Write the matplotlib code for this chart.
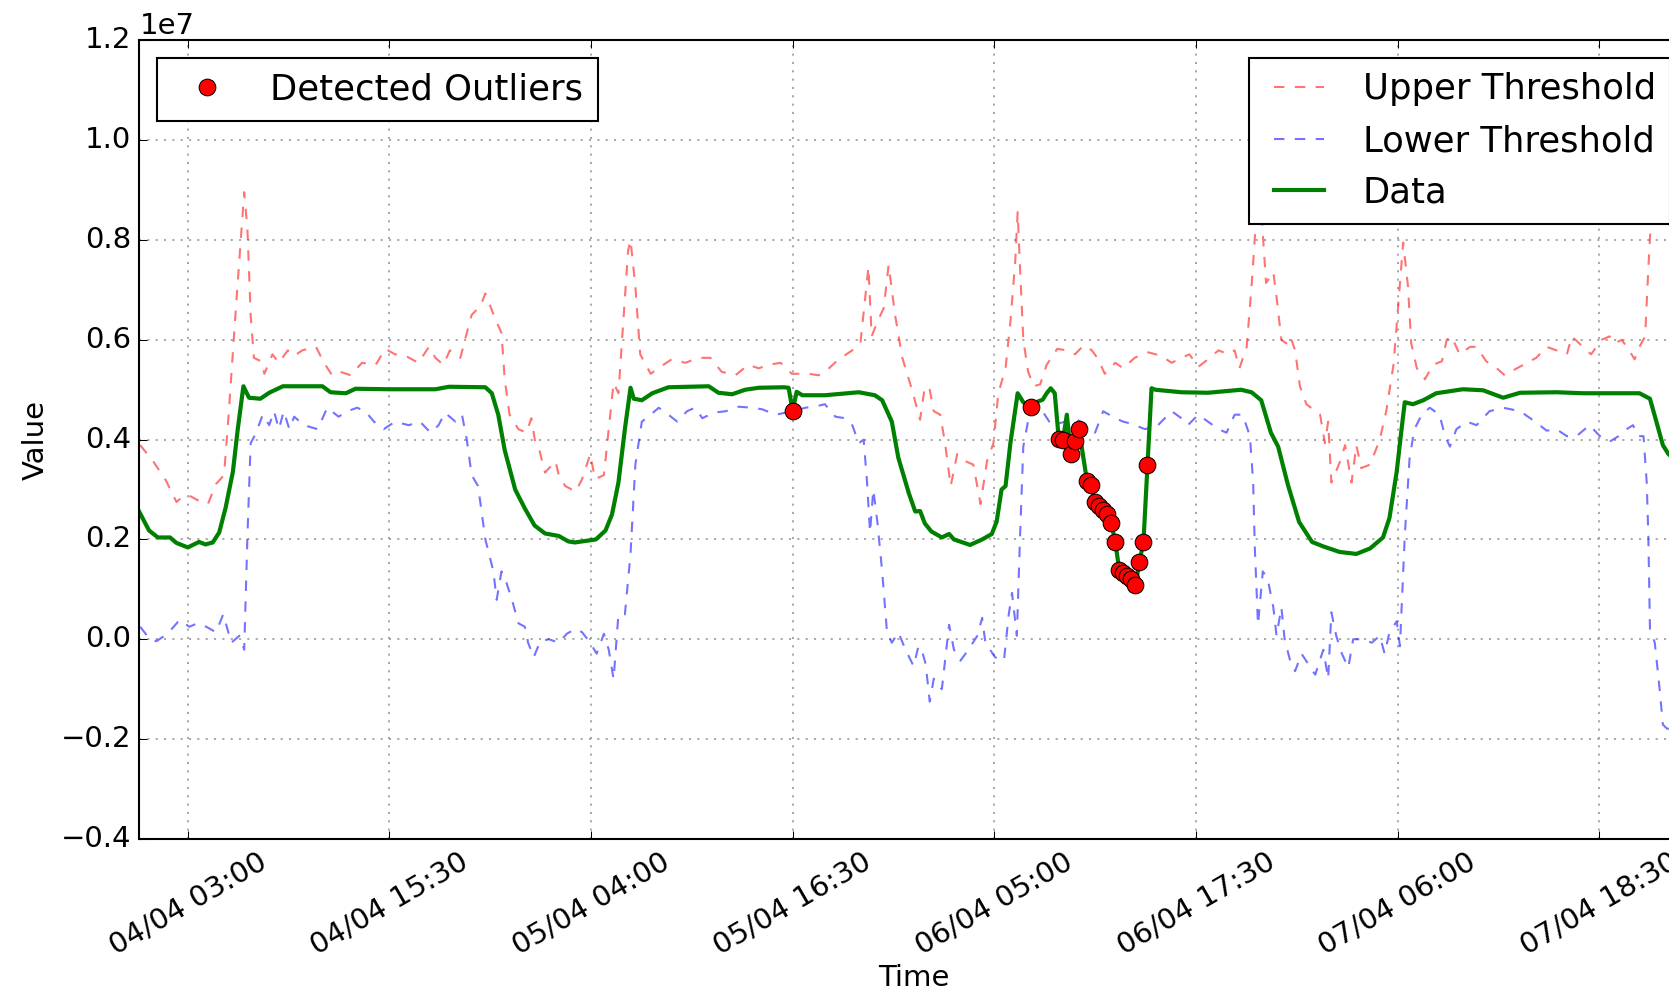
import numpy as np
import pandas as pd
import matplotlib
matplotlib.use('Agg')
import matplotlib.pyplot as plt
import matplotlib.dates as mdates

plt.style.use('classic')
plt.rcParams['font.size'] = 14

START = pd.Timestamp('2016-04-04 00:00')
SCALE = 1e7

# ---- data (hours since 04/04 00:00, values in units of 1e7) ----
data_hours = [0.0, 0.6, 1.15, 1.9, 2.3, 3.0, 3.7, 4.1, 4.55, 4.95, 5.35, 5.8, 6.1, 6.45, 6.8,
              7.5, 8.05, 8.9, 11.35, 11.85, 12.8, 13.4, 15.5, 18.35, 19.2, 21.45, 21.85, 22.25,
              22.65, 23.3, 23.9, 24.5, 25.15, 26.0, 26.6, 27.0, 28.3, 28.9, 29.3, 29.7, 30.1,
              30.45, 30.65, 31.15, 31.8, 32.8, 35.3, 35.9, 36.75, 37.55, 38.4, 39.95, 40.25,
              40.5, 40.75, 41.1, 42.5, 44.6, 45.6, 46.05, 46.65, 47.05, 47.7, 48.1, 48.4, 48.7,
              49.1, 49.75, 50.2, 50.5, 51.5, 52.25, 52.85, 53.15, 53.45, 53.7, 54.0, 54.45,
              54.8, 55.25, 55.5, 55.75, 56.0, 56.25, 56.5, 56.75, 57.0, 57.25, 57.5, 57.75,
              58.0, 58.25, 58.75, 59.0, 59.25, 59.5, 59.75, 60.0, 60.25, 60.5, 60.75, 61.0,
              61.25, 61.5, 61.75, 62.0, 62.25, 62.5, 62.75, 63.0, 64.6, 66.25, 68.3, 68.95,
              69.55, 70.15, 70.6, 71.2, 71.9, 72.7, 73.4, 74.4, 75.45, 76.3, 77.1, 77.5, 77.95,
              78.25, 78.45, 78.95, 79.6, 80.4, 82.05, 83.3, 84.55, 85.6, 87.85, 89.5, 93.0,
              93.65, 94.05, 94.45, 94.8, 95.2]
data_vals = [0.255, 0.218, 0.204, 0.204, 0.193, 0.184, 0.195, 0.19, 0.194, 0.214, 0.264, 0.336,
             0.421, 0.507, 0.484, 0.482, 0.494, 0.507, 0.507, 0.495, 0.493, 0.502, 0.501, 0.501,
             0.506, 0.505, 0.493, 0.45, 0.379, 0.30, 0.262, 0.228, 0.212, 0.207, 0.196, 0.194,
             0.2, 0.218, 0.25, 0.314, 0.421, 0.504, 0.482, 0.479, 0.493, 0.505, 0.507, 0.494,
             0.491, 0.5, 0.504, 0.505, 0.504, 0.458, 0.496, 0.489, 0.489, 0.495, 0.489, 0.479,
             0.436, 0.364, 0.293, 0.256, 0.257, 0.232, 0.216, 0.204, 0.211, 0.2, 0.189, 0.2,
             0.211, 0.236, 0.3, 0.307, 0.393, 0.493, 0.475, 0.465, 0.473, 0.477, 0.48, 0.493,
             0.503, 0.493, 0.401, 0.399, 0.45, 0.372, 0.397, 0.421, 0.317, 0.31, 0.275, 0.268,
             0.26, 0.252, 0.233, 0.195, 0.139, 0.133, 0.127, 0.12, 0.108, 0.155, 0.195, 0.35,
             0.503, 0.5, 0.495, 0.494, 0.5, 0.495, 0.479, 0.414, 0.386, 0.31, 0.235, 0.195,
             0.186, 0.175, 0.171, 0.182, 0.204, 0.243, 0.336, 0.421, 0.475, 0.471, 0.479, 0.493,
             0.501, 0.499, 0.484, 0.494, 0.495, 0.493, 0.493, 0.482, 0.436, 0.389, 0.371, 0.36]

upper_hours = [0.05, 0.85, 1.65, 2.3, 2.8, 3.2, 3.6, 4.25, 4.75, 5.25, 5.55, 6.0, 6.3, 6.5, 6.7,
               6.9, 7.1, 7.55, 7.75, 8.25, 8.65, 9.2, 9.6, 10.1, 10.95, 11.45, 11.95, 12.45,
               13.1, 13.8, 14.65, 15.25, 15.85, 16.5, 17.3, 17.95, 18.35, 18.85, 19.25, 19.9,
               20.3, 20.6, 21.15, 21.45, 22.05, 22.45, 22.65, 22.95, 23.5, 24.0, 24.3, 24.55,
               24.8, 25.15, 25.8, 26.0, 26.4, 27.05, 27.45, 27.95, 28.25, 28.8, 29.1, 29.4,
               29.7, 30.0, 30.3, 30.45, 30.75, 31.05, 31.7, 32.3, 33.0, 33.85, 34.65, 35.4,
               36.1, 36.95, 37.75, 38.4, 39.0, 39.75, 40.45, 41.5, 42.1, 42.75, 43.35, 44.2,
               44.7, 45.0, 45.2, 45.4, 45.75, 46.15, 46.45, 46.85, 47.3, 47.9, 48.4, 48.7, 49.0,
               49.25, 49.65, 49.95, 50.3, 50.7, 51.2, 51.7, 52.15, 52.55, 52.95, 53.25, 53.7,
               54.0, 54.3, 54.45, 54.6, 54.8, 55.1, 55.45, 55.85, 56.25, 56.9, 57.5, 58.0,
               58.55, 59.05, 59.45, 59.85, 60.5, 61.0, 61.7, 62.55, 63.35, 64.0, 64.6, 65.1,
               65.65, 66.25, 66.9, 67.5, 67.9, 68.2, 68.65, 68.95, 69.25, 69.55, 69.85, 70.3,
               70.5, 70.8, 71.1, 71.35, 71.65, 71.95, 72.35, 73.2, 73.5, 73.7, 73.9, 74.45,
               74.75, 75.15, 75.45, 75.75, 76.3, 76.9, 77.3, 77.75, 78.05, 78.35, 78.65, 78.85,
               79.2, 79.7, 80.2, 80.75, 81.05, 81.35, 81.85, 82.5, 82.9, 83.5, 84.15, 84.65,
               85.4, 86.2, 86.6, 87.25, 87.85, 88.5, 88.8, 89.5, 90.0, 90.65, 91.15, 91.45,
               91.9, 92.3, 92.7, 93.0, 93.35, 93.55, 93.75, 94.0, 94.5, 95.0]
upper_vals = [0.389, 0.357, 0.318, 0.275, 0.289, 0.286, 0.279, 0.271, 0.311, 0.329, 0.457, 0.671,
              0.807, 0.896, 0.821, 0.65, 0.564, 0.557, 0.532, 0.571, 0.554, 0.579, 0.568, 0.579,
              0.586, 0.554, 0.529, 0.536, 0.529, 0.554, 0.55, 0.582, 0.571, 0.568, 0.554, 0.586,
              0.564, 0.55, 0.579, 0.564, 0.614, 0.65, 0.668, 0.693, 0.643, 0.614, 0.521, 0.45,
              0.421, 0.414, 0.443, 0.393, 0.379, 0.334, 0.357, 0.329, 0.307, 0.296, 0.321, 0.371,
              0.321, 0.329, 0.421, 0.514, 0.493, 0.636, 0.779, 0.80, 0.707, 0.571, 0.532, 0.546,
              0.561, 0.554, 0.564, 0.564, 0.536, 0.529, 0.55, 0.543, 0.55, 0.554, 0.532, 0.532,
              0.529, 0.543, 0.561, 0.579, 0.593, 0.686, 0.746, 0.607, 0.636, 0.664, 0.75, 0.65,
              0.564, 0.5, 0.44, 0.507, 0.5, 0.457, 0.45, 0.393, 0.307, 0.371, 0.357, 0.35, 0.271,
              0.357, 0.393, 0.493, 0.543, 0.636, 0.757, 0.856, 0.743, 0.6, 0.536, 0.507, 0.511,
              0.55, 0.582, 0.579, 0.571, 0.589, 0.579, 0.561, 0.532, 0.554, 0.543, 0.564, 0.575,
              0.568, 0.554, 0.564, 0.571, 0.546, 0.561, 0.579, 0.571, 0.579, 0.543, 0.586, 0.707,
              0.85, 0.86, 0.714, 0.736, 0.686, 0.6, 0.593, 0.607, 0.579, 0.507, 0.471, 0.45,
              0.393, 0.436, 0.314, 0.357, 0.389, 0.314, 0.389, 0.343, 0.35, 0.40, 0.457, 0.55,
              0.671, 0.795, 0.707, 0.593, 0.543, 0.521, 0.55, 0.557, 0.6, 0.607, 0.571, 0.586,
              0.586, 0.557, 0.543, 0.529, 0.543, 0.557, 0.564, 0.586, 0.579, 0.571, 0.607, 0.586,
              0.571, 0.6, 0.607, 0.593, 0.6, 0.582, 0.561, 0.586, 0.607, 0.743, 0.864, 0.9, 0.86,
              0.82]

lower_hours = [0.05, 0.65, 1.05, 1.75, 2.5, 3.1, 3.6, 4.15, 4.75, 5.2, 5.7, 6.2, 6.5, 6.7, 6.9,
               7.2, 7.65, 8.05, 8.35, 8.65, 8.95, 9.3, 9.6, 10.2, 11.05, 11.65, 12.35, 12.9,
               13.5, 14.0, 14.55, 15.15, 15.85, 16.7, 17.4, 18.05, 18.55, 18.95, 19.6, 20.0,
               20.3, 20.6, 21.0, 21.45, 21.95, 22.15, 22.45, 22.75, 23.1, 23.5, 23.9, 24.1,
               24.45, 24.85, 25.4, 26.0, 26.5, 27.05, 27.45, 27.95, 28.35, 28.8, 29.1, 29.4,
               29.7, 30.1, 30.45, 30.75, 31.15, 31.7, 32.2, 32.8, 33.35, 33.95, 34.45, 34.9,
               35.6, 36.35, 37.15, 38.0, 38.6, 39.45, 40.05, 40.45, 41.3, 42.1, 42.5, 43.15,
               43.75, 44.2, 44.6, 44.9, 45.1, 45.3, 45.5, 45.75, 46.05, 46.35, 46.65, 47.05,
               47.5, 48.0, 48.3, 48.5, 48.75, 49.0, 49.25, 49.75, 50.2, 50.5, 50.9, 51.4, 51.95,
               52.25, 52.45, 53.05, 53.6, 53.9, 54.1, 54.4, 54.6, 54.8, 55.25, 55.85, 56.55,
               57.4, 58.0, 58.65, 59.25, 59.75, 60.5, 61.0, 61.5, 62.35, 63.15, 64.0, 64.6,
               65.0, 65.65, 66.25, 66.9, 67.4, 67.9, 68.4, 68.85, 69.05, 69.15, 69.35, 69.65,
               69.95, 70.3, 70.5, 70.8, 71.0, 71.4, 71.65, 72.05, 72.75, 72.9, 73.4, 73.7, 73.9,
               74.2, 74.55, 74.95, 75.25, 75.85, 76.4, 76.9, 77.2, 77.5, 77.95, 78.15, 78.45,
               78.75, 79.05, 79.5, 80.0, 80.6, 80.95, 81.25, 81.65, 82.3, 82.9, 83.7, 84.55,
               85.6, 86.4, 87.25, 87.85, 88.5, 89.1, 89.9, 90.55, 91.15, 91.7, 92.2, 92.6, 92.9,
               93.25, 93.45, 93.55, 93.65, 93.95, 94.25, 94.45, 94.7, 95.0]
lower_vals = [0.025, 0.0, -0.004, 0.011, 0.039, 0.025, 0.032, 0.025, 0.014, 0.05, -0.007, 0.007,
              -0.021, 0.207, 0.393, 0.411, 0.45, 0.429, 0.457, 0.421, 0.457, 0.421, 0.446, 0.429,
              0.421, 0.464, 0.446, 0.457, 0.464, 0.457, 0.436, 0.421, 0.436, 0.429, 0.436, 0.414,
              0.429, 0.454, 0.436, 0.45, 0.40, 0.329, 0.307, 0.2, 0.136, 0.079, 0.136, 0.114,
              0.079, 0.032, 0.025, -0.007, -0.036, -0.004, 0.0, -0.007, 0.011, 0.021, 0.014,
              -0.007, -0.029, 0.011, -0.021, -0.08, 0.05, 0.05, 0.171, 0.35, 0.436, 0.45, 0.464,
              0.45, 0.436, 0.457, 0.464, 0.443, 0.454, 0.457, 0.466, 0.464, 0.461, 0.45, 0.454,
              0.457, 0.464, 0.468, 0.471, 0.446, 0.443, 0.429, 0.393, 0.40, 0.321, 0.214, 0.30,
              0.236, 0.136, 0.014, -0.007, 0.014, -0.021, -0.054, -0.014, -0.021, -0.05, -0.125,
              -0.079, -0.1, 0.029, -0.021, -0.043, -0.021, 0.007, 0.043, -0.007, -0.036, -0.043,
              0.05, 0.093, 0.007, 0.207, 0.386, 0.464, 0.464, 0.429, 0.436, 0.443, 0.429, 0.414,
              0.457, 0.443, 0.436, 0.432, 0.421, 0.429, 0.457, 0.443, 0.429, 0.45, 0.436, 0.421,
              0.414, 0.45, 0.45, 0.407, 0.314, 0.186, 0.029, 0.136, 0.121, 0.064, 0.007, 0.064,
              0.0, -0.05, -0.064, -0.029, -0.064, -0.071, -0.021, -0.079, 0.054, 0.007, -0.029,
              -0.057, 0.0, 0.0, -0.007, 0.007, -0.029, 0.014, 0.036, -0.014, 0.207, 0.364, 0.421,
              0.45, 0.464, 0.45, 0.407, 0.386, 0.421, 0.436, 0.429, 0.457, 0.464, 0.457, 0.439,
              0.418, 0.421, 0.407, 0.407, 0.429, 0.407, 0.396, 0.407, 0.421, 0.429, 0.407, 0.407,
              0.314, 0.207, 0.021, -0.007, -0.1, -0.171, -0.179, -0.18]

outlier_hours = [40.5, 55.25, 57.0, 57.25, 57.75, 58.0, 58.25, 58.75, 59.0, 59.25, 59.5, 59.75,
                 60.0, 60.25, 60.5, 60.75, 61.0, 61.25, 61.5, 61.75, 62.0, 62.25, 62.5]
outlier_vals = [0.458, 0.465, 0.401, 0.399, 0.372, 0.397, 0.421, 0.317, 0.31, 0.275, 0.268, 0.26,
                0.252, 0.233, 0.195, 0.139, 0.133, 0.127, 0.12, 0.108, 0.155, 0.195, 0.35]

tick_times = ['2016-04-04 03:00', '2016-04-04 15:30', '2016-04-05 04:00', '2016-04-05 16:30',
              '2016-04-06 05:00', '2016-04-06 17:30', '2016-04-07 06:00', '2016-04-07 18:30']
y_ticks = [-0.4, -0.2, 0.0, 0.2, 0.4, 0.6, 0.8, 1.0, 1.2]


def to_time(hours):
    return (START + pd.to_timedelta(np.asarray(hours, dtype=float), unit='h')).to_pydatetime()


DPI = 150
fig = plt.figure(figsize=(1669 / DPI, 992 / DPI), dpi=DPI, facecolor='white')
ax = fig.add_axes([0.0835, 0.1544, 0.9278, 0.8048])
ax.set_axisbelow(True)

h_up, = ax.plot(to_time(upper_hours), np.array(upper_vals) * SCALE, color='r', ls='--',
                dashes=(5, 5), lw=1.0, alpha=0.55, label='Upper Threshold')
h_low, = ax.plot(to_time(lower_hours), np.array(lower_vals) * SCALE, color='b', ls='--',
                 dashes=(5, 5), lw=1.0, alpha=0.55, label='Lower Threshold')
h_data, = ax.plot(to_time(data_hours), np.array(data_vals) * SCALE, color='g', lw=2.0,
                  label='Data')
h_out, = ax.plot(to_time(outlier_hours), np.array(outlier_vals) * SCALE, 'o', color='r',
                 mec='k', mew=0.5, ms=8, ls='none', label='Detected Outliers')

ax.set_xlim(START.to_pydatetime(), (START + pd.Timedelta(hours=96)).to_pydatetime())
ax.set_ylim(-0.4 * SCALE, 1.2 * SCALE)
ax.set_yticks(np.array(y_ticks) * SCALE)
ax.ticklabel_format(axis='y', style='sci', scilimits=(-3, 3))
ax.set_xticks([pd.Timestamp(t).to_pydatetime() for t in tick_times])
ax.xaxis.set_major_formatter(mdates.DateFormatter('%d/%m %H:%M'))
for lab in ax.get_xticklabels():
    lab.set_rotation(30)
    lab.set_ha('center')

ax.grid(True, color='0.6', linestyle=':', linewidth=0.8)
ax.set_xlabel('Time', labelpad=2)
ax.set_ylabel('Value')

leg_kw = dict(fontsize=17, borderpad=0.4, labelspacing=0.5, handlelength=2.0,
              handletextpad=0.8, fancybox=False, framealpha=1.0, edgecolor='k')
leg1 = ax.legend(handles=[h_out], loc='upper left', numpoints=1, **leg_kw)
ax.add_artist(leg1)
leg2 = ax.legend(handles=[h_up, h_low, h_data], loc='upper right', numpoints=2, **leg_kw)

fig.savefig('out.png', dpi=DPI, facecolor='white')
